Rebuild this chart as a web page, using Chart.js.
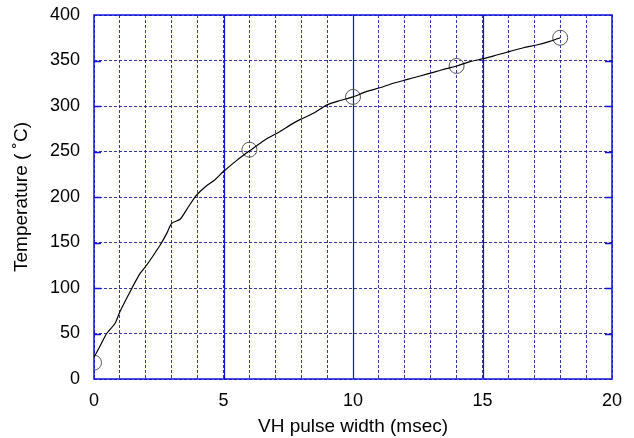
<!DOCTYPE html>
<html lang="en">

<head>
  <meta charset="UTF-8">
  <script src="https://cdn.jsdelivr.net/npm/chart.js@4.4.1/dist/chart.umd.min.js"></script>
  <style>
    body { margin: 0; background: #fff; }
    #wrap { width: 634px; height: 438px; }
  </style>
  <title>VH pulse width</title>
</head>

<body>
  <div id="wrap"><canvas id="chart"></canvas></div>

  <script>
    // fitted curve
    const curveX = [0, 0.23, 0.49, 0.81, 1.0, 1.45, 1.78, 2.03, 2.55, 2.81, 3.0, 3.32, 3.64, 3.96, 4.29, 4.67,
      5.0, 5.5, 6.02, 6.67, 7.18, 7.57, 7.95, 8.47, 8.98, 9.5, 10.0, 10.53, 11.04, 11.56, 12.07, 12.59,
      13.1, 13.6, 14.0, 14.5, 15.03, 15.55, 16.06, 16.58, 17.09, 17.6, 18.0]
    const curveY = [24, 36, 50, 61, 74, 99, 116, 125, 147, 160, 171, 175.5, 189, 202, 211, 219,
      228, 240, 251, 264, 272, 279, 285, 292, 301, 306, 310, 316, 320, 325, 329, 333,
      337, 341, 344, 348.5, 352, 356, 360, 364, 367, 371, 375]

    // measured points
    const pulseWidth = [0, 6, 10, 14, 18]
    const temperature = [18, 252, 310, 344, 375]

    const xMajor = [5, 10, 15]
    const yTicks = [50, 100, 150, 200, 250, 300, 350]

    const font = "'Liberation Sans', Arial, Helvetica, sans-serif"
    const gridDash = 'rgba(20, 20, 140, 0.85)'
    const blue = '#1010e0'

    // solid major lines, inner tick marks and the frame
    const framePlugin = {
      id: 'frame',
      beforeDatasetsDraw(chart) {
        const { ctx, chartArea, scales } = chart
        ctx.save()
        ctx.strokeStyle = blue
        ctx.lineWidth = 1.2
        xMajor.forEach(function (v) {
          const px = Math.round(scales.x.getPixelForValue(v)) + 0.5
          ctx.beginPath()
          ctx.moveTo(px, chartArea.top)
          ctx.lineTo(px, chartArea.bottom)
          ctx.stroke()
        })
        ctx.lineWidth = 1.5
        yTicks.forEach(function (v) {
          const py = Math.round(scales.y.getPixelForValue(v)) + 0.5
          ctx.beginPath()
          ctx.moveTo(chartArea.left, py)
          ctx.lineTo(chartArea.left + 7, py)
          ctx.moveTo(chartArea.right - 7, py)
          ctx.lineTo(chartArea.right, py)
          ctx.stroke()
        })
        ctx.strokeRect(chartArea.left, chartArea.top, chartArea.right - chartArea.left, chartArea.bottom - chartArea.top)
        ctx.restore()
      }
    }

    const data = {
      datasets: [{
        data: curveX.map(function (x, i) { return { x: x, y: curveY[i] } }),
        showLine: true,
        borderColor: '#000',
        borderWidth: 1.2,
        pointRadius: 0,
        tension: 0.25
      }, {
        data: pulseWidth.map(function (x, i) { return { x: x, y: temperature[i] } }),
        showLine: false,
        pointRadius: 7.5,
        pointBorderColor: '#555',
        pointBackgroundColor: 'rgba(0,0,0,0)',
        pointBorderWidth: 1
      }]
    }

    const config = {
      type: 'scatter',
      data: data,
      options: {
        responsive: true,
        maintainAspectRatio: false,
        animation: false,
        layout: { padding: { left: 0, top: 15, right: 22, bottom: 0 } },
        plugins: { legend: { display: false }, tooltip: { enabled: false } },
        scales: {
          x: {
            min: 0,
            max: 20,
            afterFit: function (scale) { scale.height = 59 },
            ticks: {
              stepSize: 1,
              autoSkip: false,
              maxRotation: 0,
              padding: 11,
              color: '#000',
              font: { family: font, size: 18 },
              callback: function (v) { return v % 5 === 0 ? v : '' }
            },
            grid: { color: gridDash, lineWidth: 1, drawTicks: false },
            border: { display: false, dash: [3, 2] },
            title: {
              display: true,
              text: 'VH pulse width (msec)',
              color: '#000',
              font: { family: font, size: 19 },
              padding: { top: 0, bottom: 0 }
            }
          },
          y: {
            min: 0,
            max: 400,
            afterFit: function (scale) {
              scale.width = 94
              scale.paddingTop = 0
              scale.paddingBottom = 0
            },
            ticks: {
              stepSize: 50,
              padding: 14,
              color: '#000',
              font: { family: font, size: 18 }
            },
            grid: { color: gridDash, lineWidth: 1, drawTicks: false },
            border: { display: false, dash: [3, 2] },
            title: {
              display: true,
              text: 'Temperature ( ˚C)',
              color: '#000',
              font: { family: font, size: 19 },
              padding: { top: 10, bottom: 0 }
            }
          }
        }
      },
      plugins: [framePlugin]
    }

    const chart = new Chart(document.getElementById('chart'), config)
  </script>
</body>

</html>
